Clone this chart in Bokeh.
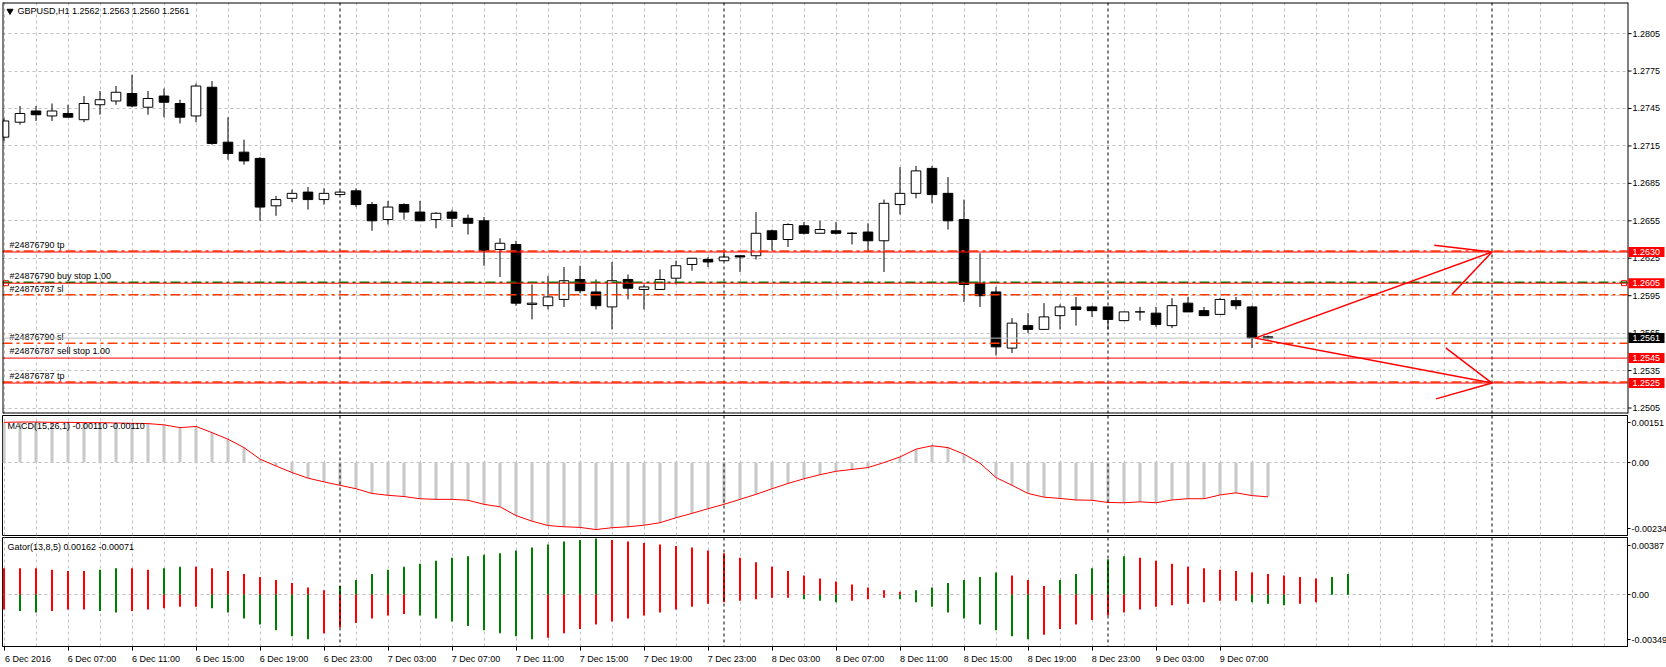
import math
from bokeh.plotting import figure
from bokeh.models import Range1d, FixedTicker, ColumnDataSource, Span, Arrow, OpenHead
from bokeh.layouts import column
from bokeh.embed import file_html
from bokeh.resources import INLINE
from bokeh.core.properties import value

# ---------------- data ----------------
symbol_title = "GBPUSD,H1  1.2562 1.2563 1.2560 1.2561"
macd_title = "MACD(15,26,1) -0.00110 -0.00110"
gator_title = "Gator(13,8,5) 0.00162 -0.00071"

opens = [1.2722, 1.2734, 1.2743, 1.2739, 1.2741, 1.2736, 1.2748, 1.2751, 1.2757, 1.2746,
         1.2755, 1.2749, 1.2739, 1.2762, 1.2718, 1.2710, 1.2705, 1.2667, 1.2673, 1.2678,
         1.2672, 1.2676, 1.2679, 1.2668, 1.2656, 1.2668, 1.2662, 1.2656, 1.2662, 1.2657,
         1.2655, 1.2632, 1.2636, 1.2588, 1.2587, 1.2592, 1.2608, 1.2598, 1.2586, 1.2608,
         1.2600, 1.2600, 1.2609, 1.2620, 1.2624, 1.2623, 1.2627, 1.2627, 1.2647, 1.2640,
         1.2651, 1.2645, 1.2647, 1.2645, 1.2646, 1.2639, 1.2668, 1.2677, 1.2697, 1.2677,
         1.2656, 1.2605, 1.2598, 1.2553, 1.2571, 1.2568, 1.2579, 1.2586, 1.2586, 1.2586,
         1.2575, 1.2582, 1.2581, 1.2571, 1.2589, 1.2583, 1.2580, 1.2591, 1.2586, 1.2562]
highs = [1.2737, 1.2747, 1.2747, 1.2749, 1.2748, 1.2755, 1.2759, 1.2763, 1.2772, 1.2759,
         1.2761, 1.2752, 1.2765, 1.2767, 1.2738, 1.2720, 1.2706, 1.2675, 1.2680, 1.2682,
         1.2681, 1.2679, 1.2681, 1.2670, 1.2671, 1.2669, 1.2671, 1.2662, 1.2664, 1.2660,
         1.2658, 1.2641, 1.2639, 1.2604, 1.2611, 1.2618, 1.2619, 1.2608, 1.2622, 1.2612,
         1.2604, 1.2616, 1.2623, 1.2625, 1.2626, 1.2630, 1.2627, 1.2662, 1.2648, 1.2653,
         1.2654, 1.2655, 1.2654, 1.2646, 1.2653, 1.2672, 1.2698, 1.2699, 1.2699, 1.2690,
         1.2672, 1.2629, 1.2602, 1.2577, 1.2581, 1.2589, 1.2588, 1.2594, 1.2587, 1.2586,
         1.2582, 1.2586, 1.2586, 1.2593, 1.2594, 1.2586, 1.2593, 1.2594, 1.2587, 1.2563]
lows = [1.2719, 1.2732, 1.2735, 1.2735, 1.2738, 1.2734, 1.2740, 1.2748, 1.2746, 1.2740,
        1.2738, 1.2733, 1.2734, 1.2716, 1.2704, 1.2700, 1.2655, 1.2659, 1.2670, 1.2664,
        1.2668, 1.2676, 1.2666, 1.2647, 1.2652, 1.2656, 1.2655, 1.2649, 1.2650, 1.2644,
        1.2619, 1.2610, 1.2587, 1.2576, 1.2584, 1.2586, 1.2597, 1.2584, 1.2568, 1.2592,
        1.2584, 1.2600, 1.2604, 1.2615, 1.2618, 1.2623, 1.2614, 1.2624, 1.2631, 1.2634,
        1.2644, 1.2645, 1.2644, 1.2636, 1.2630, 1.2614, 1.2660, 1.2673, 1.2669, 1.2648,
        1.2590, 1.2586, 1.2547, 1.2549, 1.2565, 1.2568, 1.2568, 1.2571, 1.2578, 1.2568,
        1.2575, 1.2575, 1.2570, 1.2569, 1.2582, 1.2579, 1.2580, 1.2584, 1.2553, 1.2560]
closes = [1.2735, 1.2741, 1.2740, 1.2743, 1.2738, 1.2749, 1.2752, 1.2758, 1.2747, 1.2753,
          1.2750, 1.2738, 1.2763, 1.2717, 1.2709, 1.2703, 1.2666, 1.2672, 1.2677, 1.2672,
          1.2677, 1.2678, 1.2668, 1.2655, 1.2666, 1.2662, 1.2655, 1.2661, 1.2657, 1.2653,
          1.2631, 1.2637, 1.2589, 1.2589, 1.2594, 1.2607, 1.2599, 1.2587, 1.2607, 1.2601,
          1.2602, 1.2608, 1.2619, 1.2625, 1.2622, 1.2626, 1.2626, 1.2645, 1.2640, 1.2652,
          1.2645, 1.2648, 1.2645, 1.2645, 1.2639, 1.2669, 1.2677, 1.2695, 1.2676, 1.2655,
          1.2604, 1.2595, 1.2554, 1.2573, 1.2568, 1.2578, 1.2586, 1.2584, 1.2583, 1.2576,
          1.2582, 1.2582, 1.2572, 1.2587, 1.2582, 1.2579, 1.2592, 1.2587, 1.2561, 1.2561]

macd = [0.00129, 0.00130, 0.00130, 0.00129, 0.00129, 0.00128, 0.00128, 0.00127, 0.00126, 0.00125,
        0.00121, 0.00112, 0.00116, 0.00096, 0.00075, 0.00048, 0.00011, -0.00011, -0.00032, -0.00050,
        -0.00062, -0.00073, -0.00084, -0.00099, -0.00105, -0.00109, -0.00116, -0.00118, -0.00118, -0.00121,
        -0.00134, -0.00142, -0.00170, -0.00188, -0.00202, -0.00206, -0.00208, -0.00215, -0.00209, -0.00206,
        -0.00201, -0.00193, -0.00177, -0.00163, -0.00148, -0.00134, -0.00118, -0.00102, -0.00084, -0.00067,
        -0.00052, -0.00039, -0.00028, -0.00022, -0.00016, 0.00000, 0.00018, 0.00043, 0.00054, 0.00048,
        0.00027, -0.00002, -0.00048, -0.00073, -0.00099, -0.00111, -0.00115, -0.00120, -0.00121, -0.00128,
        -0.00129, -0.00126, -0.00129, -0.00120, -0.00116, -0.00116, -0.00104, -0.00097, -0.00106, -0.00110]

gator_up = [0.0018, 0.0018, 0.0018, 0.0017, 0.0016, 0.0016, 0.0017, 0.0018, 0.0018, 0.0017,
            0.0018, 0.0019, 0.0019, 0.0018, 0.0016, 0.0014, 0.0012, 0.0010, 0.0008, 0.0005,
            0.0003, 0.0006, 0.0010, 0.0014, 0.0017, 0.0019, 0.0021, 0.0023, 0.0025, 0.0026,
            0.0027, 0.0028, 0.0030, 0.0032, 0.0034, 0.0036, 0.0037, 0.0038, 0.0037, 0.0036,
            0.0035, 0.0034, 0.0033, 0.0032, 0.0030, 0.0028, 0.0025, 0.0022, 0.0019, 0.0016,
            0.0013, 0.0011, 0.0009, 0.0007, 0.0005, 0.0003, 0.0002, 0.0003, 0.0005, 0.0008,
            0.0010, 0.0012, 0.0015, 0.0013, 0.0010, 0.0006, 0.0010, 0.0014, 0.0018, 0.0024,
            0.0026, 0.0025, 0.0023, 0.0021, 0.0019, 0.0018, 0.0017, 0.0016, 0.0015, 0.0014,
            0.0013, 0.0012, 0.0011, 0.0012, 0.0014]
gator_dn = [0.0010, 0.0011, 0.0012, 0.0011, 0.0010, 0.0010, 0.0011, 0.0012, 0.0011, 0.0010,
            0.0009, 0.0008, 0.0008, 0.0009, 0.0012, 0.0016, 0.0020, 0.0024, 0.0028, 0.0030,
            0.0026, 0.0022, 0.0019, 0.0016, 0.0014, 0.0013, 0.0014, 0.0016, 0.0018, 0.0021,
            0.0024, 0.0026, 0.0028, 0.0030, 0.0029, 0.0026, 0.0023, 0.0020, 0.0018, 0.0016,
            0.0014, 0.0012, 0.0010, 0.0008, 0.0006, 0.0005, 0.0004, 0.0003, 0.0002, 0.0002,
            0.0003, 0.0004, 0.0005, 0.0004, 0.0003, 0.0002, 0.0003, 0.0005, 0.0008, 0.0012,
            0.0016, 0.0020, 0.0024, 0.0028, 0.0030, 0.0027, 0.0023, 0.0020, 0.0017, 0.0014,
            0.0012, 0.0010, 0.0008, 0.0007, 0.0006, 0.0005, 0.0004, 0.0004, 0.0005, 0.0006,
            0.0007, 0.0006, 0.0005]

price_ticks = [1.2505, 1.2535, 1.2565, 1.2595, 1.2625, 1.2655, 1.2685, 1.2715, 1.2745, 1.2775, 1.2805]
price_tick_labels = ["1.2505", "1.2535", "1.2565", "1.2595", "1.2625", "1.2655",
                     "1.2685", "1.2715", "1.2745", "1.2775", "1.2805"]
macd_range = (-0.00234, 0.00151)
macd_tick_labels = ["-0.00234", "0.00", "0.00151"]
gator_range = (-0.00349, 0.00387)
gator_tick_labels = ["-0.00349", "0.00", "0.00387"]

time_tick_bars = [0, 4, 8, 12, 16, 20, 24, 28, 32, 36, 40, 44, 48, 52, 56, 60, 64, 68, 72, 76]
time_tick_labels = ["6 Dec 2016", "6 Dec 07:00", "6 Dec 11:00", "6 Dec 15:00", "6 Dec 19:00",
                    "6 Dec 23:00", "7 Dec 03:00", "7 Dec 07:00", "7 Dec 11:00", "7 Dec 15:00",
                    "7 Dec 19:00", "7 Dec 23:00", "8 Dec 03:00", "8 Dec 07:00", "8 Dec 11:00",
                    "8 Dec 15:00", "8 Dec 19:00", "8 Dec 23:00", "9 Dec 03:00", "9 Dec 07:00"]
day_separator_bars = [21, 45, 69, 93]

hline_levels = [1.2630, 1.2605, 1.2545, 1.2525]            # red horizontal lines
hline_labels = ["1.2630", "1.2605", "1.2545", "1.2525"]
bid_price = 1.2561
bid_label = "1.2561"
order_labels = ["#24876790 tp", "#24876790 buy stop 1.00", "#24876787 sl",
                "#24876790 sl", "#24876787 sell stop 1.00", "#24876787 tp"]
order_prices = [1.2630, 1.2605, 1.2595, 1.2556, 1.2545, 1.2525]
order_kinds = ["tp", "pending", "sl", "sl", "pending", "tp"]
arrow_start_bar = 78.2
arrow_end_bar = 93
arrow_targets = [1.2630, 1.2525]

# ---------------- layout constants ----------------
FONT = "Liberation Sans"
FS = "9px"
PX_BAR = 16.0
FRAME_W = 1625            # indicator panels (axis outside)
MAIN_FRAME_W = 1664       # main panel draws its own price scale inside the frame
AXIS_PX = 1627            # page x of the price-scale border
X0 = -1.5 / PX_BAR
X1 = X0 + FRAME_W / PX_BAR
X1_MAIN = X0 + MAIN_FRAME_W / PX_BAR
MAIN_H, MACD_H, GATOR_H = 411, 120, 109
MAIN_TOP_PX = 2
PRICE_PER_PX = 1.0 / 12480
P_HI = 1.2655 + (220.3 - MAIN_TOP_PX) * PRICE_PER_PX
P_LO = P_HI - MAIN_H * PRICE_PER_PX
GRID_COLOR = "#c0c0c0"
ORDER_RED = "#ff3c00"
GREEN = "#008000"
LABEL_HALF_BARS = 1.5     # half width of a time label, in bars (labels start at their tick)


def px2x(px):
    return X0 + (px - 2) / PX_BAR


def py2p(py):
    return P_HI - (py - MAIN_TOP_PX) * PRICE_PER_PX


def style_grid(p):
    p.xgrid.ticker = FixedTicker(ticks=list(range(0, 102, 2)))
    p.xgrid.grid_line_color = GRID_COLOR
    p.xgrid.grid_line_dash = "3 3"
    p.ygrid.grid_line_color = GRID_COLOR
    p.ygrid.grid_line_dash = "3 3"
    for b in day_separator_bars:
        p.add_layout(Span(location=b, dimension="height", line_color="black",
                          line_width=1, line_dash="3 3"))


def make_fig(h, ylo, yhi, top, bottom, with_xaxis=False):
    p = figure(frame_width=FRAME_W, frame_height=h,
               x_range=Range1d(X0, X1), y_range=Range1d(ylo, yhi),
               x_axis_location="below" if with_xaxis else None,
               y_axis_location="right", toolbar_location=None, output_backend="svg",
               min_border_left=2, min_border_right=39, min_border_top=top, min_border_bottom=bottom,
               background_fill_color="white", border_fill_color="white",
               outline_line_color="black", outline_line_width=1)
    style_grid(p)
    ax = p.yaxis[0]
    ax.major_label_text_font = FONT
    ax.major_label_text_font_size = FS
    ax.major_label_text_color = "black"
    ax.major_tick_out = 3
    ax.major_tick_in = 0
    ax.minor_tick_out = 0
    ax.minor_tick_in = 0
    ax.major_label_standoff = 1
    ax.axis_line_color = "black"
    ax.major_tick_line_color = "black"
    return p


n = len(opens)
xs = list(range(n))

# ---------------- main price panel ----------------
p1 = figure(frame_width=MAIN_FRAME_W, frame_height=MAIN_H,
            x_range=Range1d(X0, X1_MAIN), y_range=Range1d(P_LO, P_HI),
            x_axis_location=None, y_axis_location=None, toolbar_location=None,
            output_backend="svg", min_border_left=2, min_border_right=0,
            min_border_top=MAIN_TOP_PX, min_border_bottom=1,
            background_fill_color="white", border_fill_color="white", outline_line_color=None)
style_grid(p1)
p1.ygrid.ticker = FixedTicker(ticks=price_ticks)

# bid line and order / level lines
p1.add_layout(Span(location=bid_price, dimension="width", line_color=GRID_COLOR, line_width=1))
for price, kind in zip(order_prices, order_kinds):
    if kind == "pending":
        continue
    p1.add_layout(Span(location=price + PRICE_PER_PX, dimension="width", line_color=ORDER_RED,
                       line_width=1.5, line_dash="10 4 3 4"))
p1.add_layout(Span(location=order_prices[1] + PRICE_PER_PX, dimension="width", line_color=GREEN,
                   line_width=1.5, line_dash="10 4 3 4"))
for lvl in hline_levels:
    p1.add_layout(Span(location=lvl, dimension="width", line_color="red", line_width=1))

# candles
tops = [max(o, c) for o, c in zip(opens, closes)]
bots = [min(o, c) for o, c in zip(opens, closes)]
fills = ["white" if c >= o else "black" for o, c in zip(opens, closes)]
src = ColumnDataSource(dict(x=xs, o=opens, h=highs, l=lows, c=closes, top=tops, bot=bots, fill=fills))
p1.segment(x0="x", y0="l", x1="x", y1="h", source=src, line_color="black", line_width=1)
p1.vbar(x="x", width=0.6, top="top", bottom="bot", source=src, fill_color="fill",
        line_color="black", line_width=1)

# order labels
p1.text(x=[px2x(9)] * len(order_labels), y=[pr + 2 * PRICE_PER_PX for pr in order_prices],
        text=order_labels, text_font=value(FONT), text_font_size=FS, text_color="black",
        text_baseline="bottom", text_align="left")

# order markers on the pending buy stop line
p1.scatter(x=[px2x(5.5), px2x(1623.5)], y=[order_prices[1]] * 2, marker="square", size=5,
           line_color="red", fill_color="white", line_width=1)

# title
p1.scatter(x=[px2x(9.5)], y=[py2p(10.5)], marker="inverted_triangle", size=6, color="black")
p1.text(x=[px2x(17)], y=[py2p(10.5)], text=[symbol_title], text_font=value(FONT),
        text_font_size=FS, text_color="black", text_baseline="middle", text_align="left")

# arrows
for tgt in arrow_targets:
    p1.add_layout(Arrow(end=OpenHead(size=52, line_color="red", line_width=1.5),
                        x_start=arrow_start_bar, y_start=bid_price, x_end=arrow_end_bar, y_end=tgt,
                        line_color="red", line_width=1.5))

# ---- price scale (drawn on top, right of the chart border) ----
ax_x = px2x(AXIS_PX)
ax_line_x = px2x(AXIS_PX + 0.5)
p1.quad(left=[ax_x], right=[X1_MAIN], bottom=[P_LO], top=[P_HI], fill_color="white",
        line_color=None, level="overlay")
# chart border
p1.segment(x0=[px2x(2.5), px2x(2.5), ax_line_x, px2x(2.5)],
           y0=[py2p(2.5), py2p(412.5), P_LO, P_LO],
           x1=[ax_line_x, ax_line_x, ax_line_x, px2x(2.5)],
           y1=[py2p(2.5), py2p(412.5), P_HI, P_HI],
           line_color="black", line_width=1, level="overlay")
p1.segment(x0=[ax_line_x] * len(price_ticks), y0=price_ticks,
           x1=[px2x(AXIS_PX + 4)] * len(price_ticks), y1=price_ticks,
           line_color="black", line_width=1, level="overlay")
p1.text(x=[px2x(AXIS_PX + 5)] * len(price_ticks), y=price_ticks, text=price_tick_labels,
        text_font=value(FONT), text_font_size=FS, text_color="black",
        text_baseline="middle", text_align="left", level="overlay")
box_prices = hline_levels + [bid_price]
box_texts = hline_labels + [bid_label]
box_colors = ["red"] * len(hline_levels) + ["black"]
p1.quad(left=[px2x(AXIS_PX + 1)] * len(box_prices), right=[px2x(AXIS_PX + 37)] * len(box_prices),
        bottom=[b - 5 * PRICE_PER_PX for b in box_prices], top=[b + 5 * PRICE_PER_PX for b in box_prices],
        fill_color=box_colors, line_color=None, level="overlay")
p1.text(x=[px2x(AXIS_PX + 5)] * len(box_prices), y=box_prices, text=box_texts,
        text_font=value(FONT), text_font_size=FS, text_color="white",
        text_baseline="middle", text_align="left", level="overlay")

# ---------------- MACD panel ----------------
m_lo, m_hi = macd_range
m_ppx = (m_hi - m_lo) / MACD_H
p2 = make_fig(MACD_H, m_lo, m_hi, 1, 1)
macd_ticks = [m_lo + 7 * m_ppx, 0.0, m_hi - 7 * m_ppx]
p2.yaxis.ticker = FixedTicker(ticks=macd_ticks)
p2.yaxis.major_label_overrides = {t: l for t, l in zip(macd_ticks, macd_tick_labels)}
p2.ygrid.ticker = FixedTicker(ticks=[0.0])
msrc = ColumnDataSource(dict(x=xs, v=macd))
p2.vbar(x="x", width=3 / PX_BAR, top="v", bottom=0, source=msrc, fill_color="#c8c8c8", line_color=None)
p2.line(x="x", y="v", source=msrc, line_color="red", line_width=1)
p2.text(x=[px2x(7)], y=[m_hi - 10 * m_ppx], text=[macd_title], text_font=value(FONT),
        text_font_size=FS, text_color="black", text_baseline="middle", text_align="left")

# ---------------- Gator panel ----------------
g_lo, g_hi = gator_range
g_ppx = (g_hi - g_lo) / GATOR_H
p3 = make_fig(GATOR_H, g_lo, g_hi, 1, 21, with_xaxis=True)
gator_ticks = [g_lo + 7 * g_ppx, 0.0, g_hi - 8 * g_ppx]
p3.yaxis.ticker = FixedTicker(ticks=gator_ticks)
p3.yaxis.major_label_overrides = {t: l for t, l in zip(gator_ticks, gator_tick_labels)}
p3.ygrid.ticker = FixedTicker(ticks=[0.0])
up_col = [GREEN if i > 0 and gator_up[i] > gator_up[i - 1] else "red" for i in range(len(gator_up))]
dn_col = [GREEN if i > 0 and gator_dn[i] > gator_dn[i - 1] else "red" for i in range(len(gator_dn))]
p3.segment(x0=list(range(len(gator_up))), y0=[0] * len(gator_up), x1=list(range(len(gator_up))),
           y1=gator_up, line_color=up_col, line_width=2)
p3.segment(x0=list(range(len(gator_dn))), y0=[0] * len(gator_dn), x1=list(range(len(gator_dn))),
           y1=[-v for v in gator_dn], line_color=dn_col, line_width=2)
p3.text(x=[px2x(7)], y=[g_hi - 9.5 * g_ppx], text=[gator_title], text_font=value(FONT),
        text_font_size=FS, text_color="black", text_baseline="middle", text_align="left")

# time axis: labels start at their bar (centred label shifted by half its width)
label_pos = [b + LABEL_HALF_BARS for b in time_tick_bars]
xa = p3.xaxis[0]
xa.ticker = FixedTicker(ticks=label_pos, minor_ticks=time_tick_bars)
xa.major_label_overrides = {pos: l for pos, l in zip(label_pos, time_tick_labels)}
xa.major_label_text_font = FONT
xa.major_label_text_font_size = FS
xa.major_label_text_color = "black"
xa.major_tick_out = 0
xa.major_tick_in = 0
xa.minor_tick_out = 4
xa.minor_tick_in = 0
xa.minor_tick_line_color = "black"
xa.major_label_standoff = 3
xa.axis_line_color = "black"

layout = column(p1, p2, p3, spacing=0)
open("out.html", "w").write(file_html(layout, INLINE))
